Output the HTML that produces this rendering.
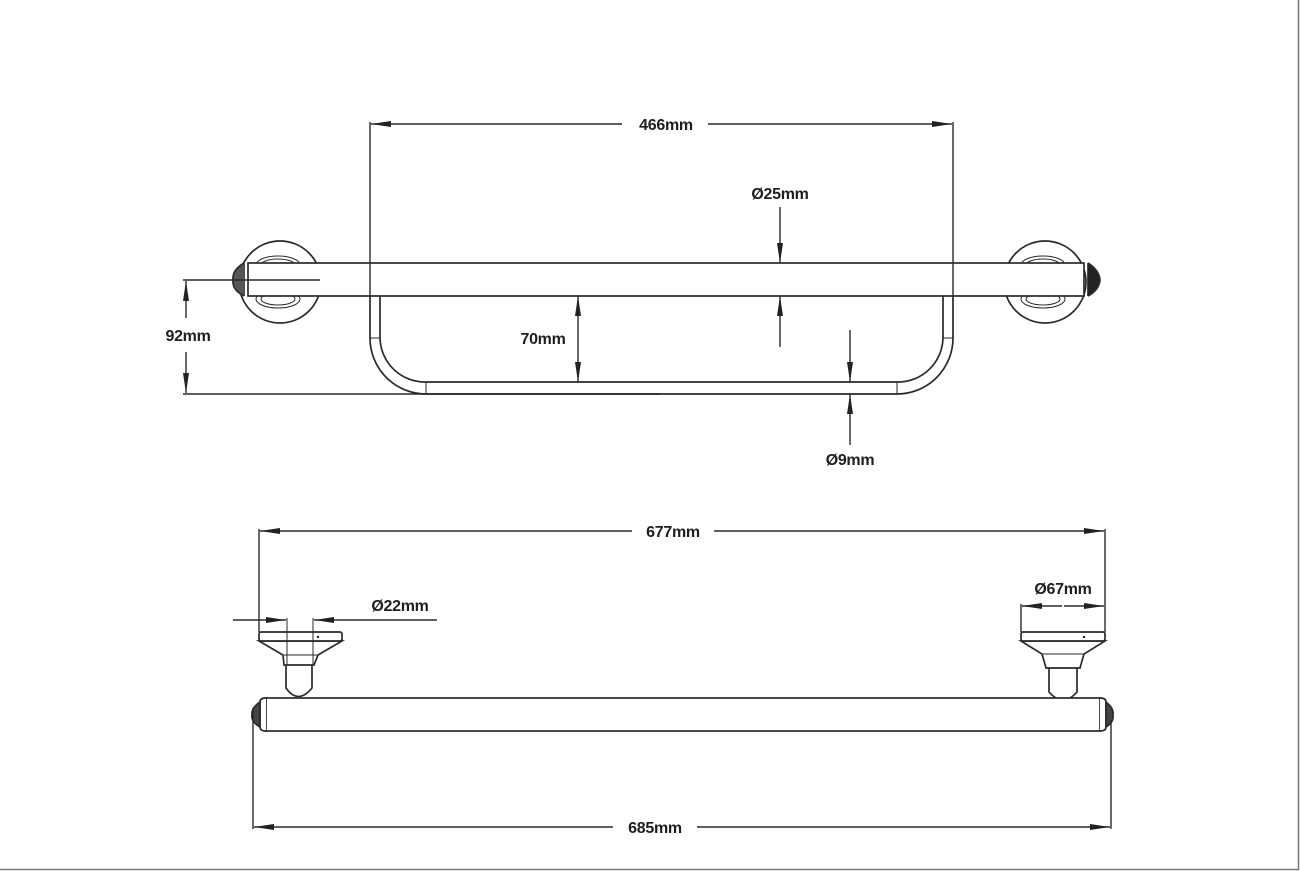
<!DOCTYPE html>
<html><head><style>
html,body{margin:0;padding:0;background:#fff;}
svg{display:block;}
text{font-family:"Liberation Sans",sans-serif;font-weight:bold;font-size:16px;fill:#1e1e1e;letter-spacing:-0.3px;}
</style></head><body>
<svg width="1300" height="871" viewBox="0 0 1300 871" xmlns="http://www.w3.org/2000/svg">
<defs>
<marker id="a" viewBox="0 0 20 8" refX="20" refY="4" markerWidth="20" markerHeight="8" markerUnits="userSpaceOnUse" orient="auto-start-reverse">
<path d="M0,1 L20,4 L0,7 z" fill="#222"/>
</marker>
</defs>
<rect width="1300" height="871" fill="#fff"/>
<line x1="1298.5" y1="0" x2="1298.5" y2="869.5" stroke="#777" stroke-width="1.5"/>
<line x1="0" y1="869.5" x2="1299" y2="869.5" stroke="#777" stroke-width="1.5"/>

<g fill="none" stroke="#2a2a2a" stroke-width="1.7">
<circle cx="280" cy="282" r="41"/>
<circle cx="1045" cy="282" r="41"/>
<ellipse cx="278" cy="265" rx="22" ry="9" stroke-width="1"/>
<ellipse cx="278" cy="265" rx="17" ry="6" stroke-width="1"/>
<ellipse cx="278" cy="299" rx="22" ry="9" stroke-width="1"/>
<ellipse cx="278" cy="299" rx="17" ry="6" stroke-width="1"/>
<ellipse cx="1043" cy="265" rx="22" ry="9" stroke-width="1"/>
<ellipse cx="1043" cy="265" rx="17" ry="6" stroke-width="1"/>
<ellipse cx="1043" cy="299" rx="22" ry="9" stroke-width="1"/>
<ellipse cx="1043" cy="299" rx="17" ry="6" stroke-width="1"/>
<rect x="248" y="263" width="836" height="33" fill="#fff"/>
<line x1="244" y1="263" x2="244" y2="296"/>
<line x1="1088" y1="263" x2="1088" y2="296"/>
<path d="M244,263 Q232,270 233,280 Q232,290 244,296" fill="#555"/>
<path d="M1088,263 Q1099,270 1100,280 Q1099,290 1088,296" fill="#222"/>
<path d="M370,296 V338 A56,56 0 0 0 426,394 H897 A56,56 0 0 0 953,338 V296"/>
<path d="M380,296 V338 A45,45 0 0 0 425,382 H898 A45,45 0 0 0 943,338 V296"/>
<line x1="370" y1="338" x2="380" y2="338" stroke-width="1"/>
<line x1="943" y1="338" x2="953" y2="338" stroke-width="1"/>
<line x1="426" y1="382" x2="426" y2="394" stroke-width="1"/>
<line x1="897" y1="382" x2="897" y2="394" stroke-width="1"/>
</g>

<g stroke="#2a2a2a" stroke-width="1.4" fill="none">
<line x1="370" y1="122" x2="370" y2="296"/>
<line x1="953" y1="122" x2="953" y2="296"/>
<line x1="371" y1="124" x2="622" y2="124" marker-start="url(#a)"/>
<line x1="708" y1="124" x2="952" y2="124" marker-end="url(#a)"/>
<line x1="780" y1="207" x2="780" y2="263" marker-end="url(#a)"/>
<line x1="780" y1="347" x2="780" y2="296" marker-end="url(#a)"/>
<line x1="578" y1="296" x2="578" y2="382" marker-start="url(#a)" marker-end="url(#a)"/>
<line x1="850" y1="330" x2="850" y2="382" marker-end="url(#a)"/>
<line x1="850" y1="445" x2="850" y2="394" marker-end="url(#a)"/>
<line x1="183" y1="280" x2="320" y2="280"/>
<line x1="183" y1="394" x2="660" y2="394"/>
<line x1="186" y1="281" x2="186" y2="318" marker-start="url(#a)"/>
<line x1="186" y1="352" x2="186" y2="393" marker-end="url(#a)"/>
</g>

<text x="666" y="130" text-anchor="middle">466mm</text>
<text x="780" y="199" text-anchor="middle">Ø25mm</text>
<text x="543" y="344" text-anchor="middle">70mm</text>
<text x="850" y="465" text-anchor="middle">Ø9mm</text>
<text x="188" y="341" text-anchor="middle">92mm</text>

<g fill="#fff" stroke="#2a2a2a" stroke-width="1.7">
<path d="M286,665 V688 Q298,705 312,688 V665"/>
<path d="M284,665 H314 L318,655 L342,641 H259 L283,655 Z"/>
<rect x="259" y="632" width="83" height="9" rx="2"/>
<line x1="284" y1="655" x2="318" y2="655" stroke-width="1"/>
<path d="M1049,668 V692 Q1063,708 1077,692 V668"/>
<path d="M1046,668 H1080 L1084,654 L1105,641 H1021 L1042,654 Z"/>
<rect x="1021" y="632" width="84" height="9" rx="2"/>
<line x1="1042" y1="654" x2="1084" y2="654" stroke-width="1"/>
<rect x="266" y="698" width="834" height="33"/>
<path d="M266,698 Q260,698 260,702 V727 Q260,731 266,731"/>
<path d="M1100,698 Q1106,698 1106,702 V727 Q1106,731 1100,731"/>
<path d="M260,702 Q251,708 252,715 Q251,722 260,727 Z" fill="#444"/>
<path d="M1106,702 Q1114,708 1113,715 Q1114,722 1106,727 Z" fill="#444"/>
</g>
<circle cx="318" cy="637" r="1.2" fill="#222"/>
<circle cx="1084" cy="637" r="1.2" fill="#222"/>

<g stroke="#2a2a2a" stroke-width="1.4" fill="none">
<line x1="259" y1="529" x2="259" y2="632"/>
<line x1="1105" y1="529" x2="1105" y2="632"/>
<line x1="260" y1="531" x2="632" y2="531" marker-start="url(#a)"/>
<line x1="714" y1="531" x2="1104" y2="531" marker-end="url(#a)"/>
<line x1="287" y1="618" x2="287" y2="665" stroke-width="1"/>
<line x1="313" y1="618" x2="313" y2="665" stroke-width="1"/>
<line x1="233" y1="620" x2="286" y2="620" marker-end="url(#a)"/>
<line x1="437" y1="620" x2="314" y2="620" marker-end="url(#a)"/>
<line x1="1021" y1="604" x2="1021" y2="632"/>
<line x1="1022" y1="606" x2="1062" y2="606" marker-start="url(#a)"/>
<line x1="1064" y1="606" x2="1104" y2="606" marker-end="url(#a)"/>
<line x1="253" y1="708" x2="253" y2="829"/>
<line x1="1111" y1="720" x2="1111" y2="829"/>
<line x1="254" y1="827" x2="613" y2="827" marker-start="url(#a)"/>
<line x1="697" y1="827" x2="1110" y2="827" marker-end="url(#a)"/>
</g>

<text x="673" y="537" text-anchor="middle">677mm</text>
<text x="400" y="611" text-anchor="middle">Ø22mm</text>
<text x="1063" y="594" text-anchor="middle">Ø67mm</text>
<text x="655" y="833" text-anchor="middle">685mm</text>
</svg>
</body></html>
